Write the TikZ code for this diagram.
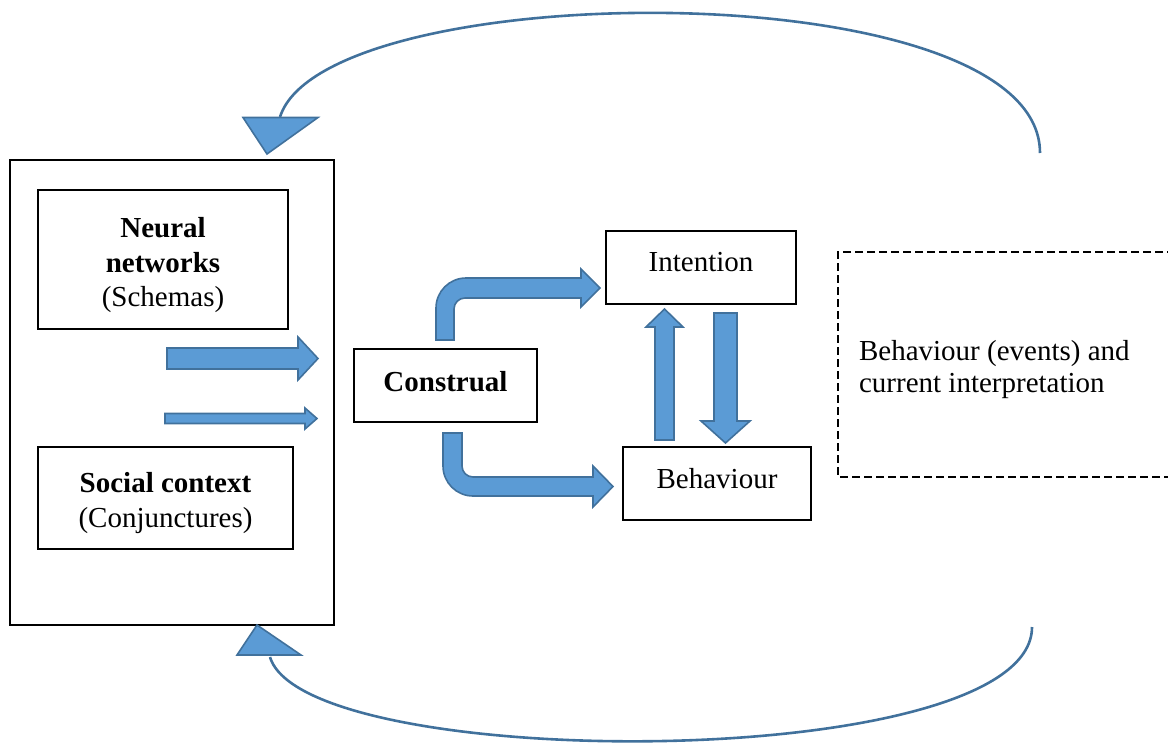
\documentclass[tikz,border=0pt]{standalone}
\usepackage{fontspec}
\setmainfont{Liberation Serif}
\begin{document}
\definecolor{arrowfill}{HTML}{5B9BD5}
\definecolor{arrowline}{HTML}{41719C}
\begin{tikzpicture}[x=0.5pt,y=-0.5pt,
  font=\fontsize{14.5}{17.25}\selectfont,
  box/.style={draw=black,line width=1pt,rectangle,inner sep=0pt},
  boxtext/.style={align=center,inner sep=0pt},
  blockarrow/.style={fill=arrowfill,draw=arrowline,line width=0.8pt,line join=miter},
  loopline/.style={draw=arrowline,line width=1.3pt},
  loophead/.style={fill=arrowfill,draw=arrowline,line width=0.8pt,line join=miter}]
\useasboundingbox (0,0) rectangle (1168,745);

% left frame with the two inner boxes
\node[box,minimum width=162pt,minimum height=232.5pt] (frame) at (172,392.5) {};
\node[box,minimum width=125pt,minimum height=69.5pt] (neural) at (163,259.5) {};
\node[boxtext] (neuraltext) at (163,265.5)
  {\textbf{Neural}\\\textbf{networks}\\(Schemas)};
\node[box,minimum width=127.5pt,minimum height=51pt] (social) at (165.5,498) {};
\node[boxtext] (socialtext) at (165.5,503)
  {\textbf{Social context}\\(Conjunctures)};

% middle and right boxes
\node[box,minimum width=91.5pt,minimum height=36.5pt] (construal) at (445.5,385.5) {};
\node[boxtext] (construaltext) at (445.5,381.5) {\textbf{Construal}};
\node[box,minimum width=95pt,minimum height=36.5pt] (intention) at (701,267.5) {};
\node[boxtext] (intentiontext) at (701,262.5) {Intention};
\node[box,minimum width=94pt,minimum height=36.5pt] (behaviour) at (717,483.5) {};
\node[boxtext] (behaviourtext) at (717,478.5) {Behaviour};

% dashed box running off the right edge
\draw[line width=1pt,dash pattern=on 4pt off 2pt]
  (1175,252) -- (838,252) -- (838,477) -- (1175,477);
\node[anchor=west,align=left,font=\fontsize{14.5}{16}\selectfont] (events) at (852,370)
  {Behaviour (events) and\\current interpretation};

% block arrows inside the frame
\path[blockarrow] (167,348) -- (298,348) -- (298,337) -- (318,358.5)
  -- (298,380) -- (298,369) -- (167,369) -- cycle;
\path[blockarrow] (165,413.5) -- (305,413.5) -- (305,408) -- (317,418.5)
  -- (305,429) -- (305,423.5) -- (165,423.5) -- cycle;

% bent arrows from Construal
\path[blockarrow] (436,340) [rounded corners=15pt]-- (436,278) [sharp corners]-- (581,278)
  -- (581,269) -- (600,288) -- (581,307) -- (581,298)
  [rounded corners=5.5pt]-- (454,298) [sharp corners]-- (454,340) -- cycle;
\path[blockarrow] (443,433) [rounded corners=15pt]-- (443,496) [sharp corners]-- (593,496)
  -- (593,507) -- (613,486.5) -- (593,466) -- (593,477)
  [rounded corners=5.5pt]-- (462,477) [sharp corners]-- (462,433) -- cycle;

% arrows between Intention and Behaviour
\path[blockarrow] (655,440) -- (655,327) -- (646,327) -- (664.5,309)
  -- (683,327) -- (674,327) -- (674,440) -- cycle;
\path[blockarrow] (714,313) -- (737,313) -- (737,421) -- (750,421)
  -- (725.5,443) -- (701,421) -- (714,421) -- cycle;

% feedback loops
\coordinate (topstart) at (1040,153);
\coordinate (topend) at (280,117);
\coordinate (botstart) at (1032,627);
\coordinate (botend) at (270,657);
\draw[loopline] (topstart) .. controls (1040,-30) and (325,-25) .. (topend);
\path[loophead] (243,117.5) -- (318,117.5) -- (267,154) -- cycle;
\draw[loopline] (botstart) .. controls (1032,774) and (305,774) .. (botend);
\path[loophead] (237,655) -- (301,655) -- (257,625) -- cycle;
\end{tikzpicture}
\end{document}
